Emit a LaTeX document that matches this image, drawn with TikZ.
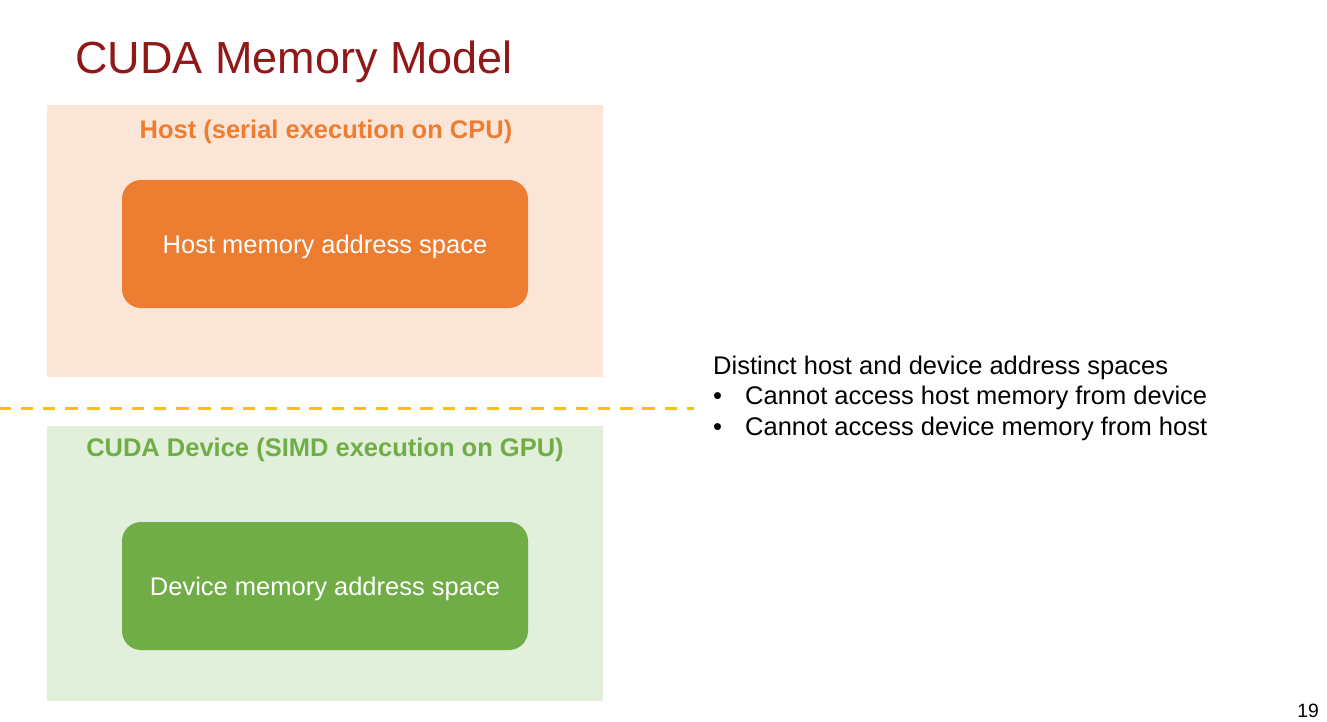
\documentclass[tikz,border=0pt]{standalone}
\usepackage{fontspec}
\setmainfont{Liberation Sans}
\definecolor{titlered}{RGB}{145,24,24}
\definecolor{hostorange}{RGB}{237,125,49}
\definecolor{hostlight}{RGB}{251,229,214}
\definecolor{devgreen}{RGB}{112,173,71}
\definecolor{devlight}{RGB}{226,239,218}
\definecolor{divider}{RGB}{255,192,0}
\tikzset{
  regiontitle/.style={anchor=base, inner sep=0pt, font=\fontsize{25.5}{30}\selectfont\bfseries},
  memlabel/.style={anchor=base, inner sep=0pt, text=white, font=\fontsize{25.5}{30}\selectfont},
  bodytext/.style={anchor=base west, inner sep=0pt, font=\fontsize{25.5}{30}\selectfont},
}
\begin{document}
\begin{tikzpicture}[x=1pt,y=-1pt]
\useasboundingbox (0,0) rectangle (1327,721);
\fill[white] (0,0) rectangle (1327,721);
% title
\node[anchor=base west, inner sep=0pt, text=titlered, font=\fontsize{45}{54}\selectfont] (title) at (75,73) {CUDA Memory Model};
% host region
\fill[hostlight] (47,105) rectangle (603,377);
\node[regiontitle, text=hostorange] (hosttitle) at (326,138) {Host (serial execution on CPU)};
\fill[hostorange, rounded corners=19pt] (122,180) rectangle (528,308);
\node[memlabel] (hostmem) at (325,253) {Host memory address space};
% divider
\coordinate (divL) at (0,408.5);
\coordinate (divR) at (694,408.5);
\draw[divider, line width=3pt, dash pattern=on 12.5pt off 9.7pt, dash phase=1.5pt] (divL) -- (divR);
% device region
\fill[devlight] (47,426) rectangle (603,701);
\node[regiontitle, text=devgreen] (devtitle) at (325,456) {CUDA Device (SIMD execution on GPU)};
\fill[devgreen, rounded corners=19pt] (122,522) rectangle (528,650);
\node[memlabel] (devmem) at (325,595) {Device memory address space};
% right text
\node[bodytext] (l1) at (713,374) {Distinct host and device address spaces};
\node[bodytext] (b2) at (713,404.5) {•};
\node[bodytext] (l2) at (745,404.5) {Cannot access host memory from device};
\node[bodytext] (b3) at (713,435) {•};
\node[bodytext] (l3) at (745,435) {Cannot access device memory from host};
% page number
\node[anchor=base east, inner sep=0pt, font=\fontsize{19.3}{23}\selectfont] (pagenum) at (1319,717) {19};
\end{tikzpicture}
\end{document}
